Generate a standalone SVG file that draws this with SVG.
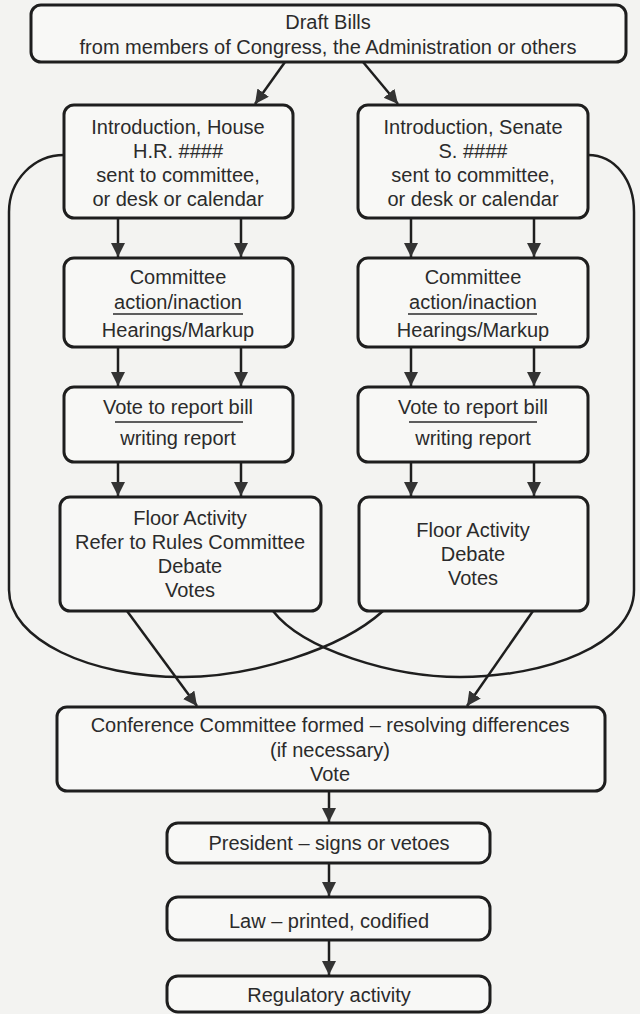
<svg xmlns="http://www.w3.org/2000/svg" width="640" height="1014" viewBox="0 0 640 1014">
<defs>
<marker id="ah" markerUnits="userSpaceOnUse" markerWidth="16" markerHeight="16" refX="14" refY="7" orient="auto"><path d="M0,0 L14,7 L0,14 Z" fill="#333"/></marker>
<style>
.box{fill:#f8f8f6;stroke:#1e1e1e;stroke-width:3}
.t{font-family:"Liberation Sans",Arial,sans-serif;font-size:20px;fill:#2b2b2b;text-anchor:middle}
.ul{stroke:#2b2b2b;stroke-width:1.5}
.c{fill:none;stroke:#1e1e1e;stroke-width:2.5}
.a{fill:none;stroke:#1e1e1e;stroke-width:2.5;marker-end:url(#ah)}
</style>
</defs>
<rect x="0" y="0" width="640" height="1014" fill="#f3f3f1"/>

<g id="connectors">
<path class="c" d="M64,155 C34,155 9,180 9,212 L9,590 C9,640 90,677 183,677 C250,677 340,650 383,611"/>
<path class="c" d="M588,155 C615,155 634,180 634,212 L634,590 C634,645 545,677 460,677 C393,677 303,650 273,611"/>
<line class="a" x1="285" y1="62" x2="255" y2="104"/>
<line class="a" x1="363" y1="62" x2="398" y2="104"/>
<line class="a" x1="118" y1="218" x2="118" y2="257"/>
<line class="a" x1="241" y1="218" x2="241" y2="257"/>
<line class="a" x1="411" y1="218" x2="411" y2="257"/>
<line class="a" x1="534" y1="218" x2="534" y2="257"/>
<line class="a" x1="118" y1="347" x2="118" y2="386"/>
<line class="a" x1="241" y1="347" x2="241" y2="386"/>
<line class="a" x1="411" y1="347" x2="411" y2="386"/>
<line class="a" x1="534" y1="347" x2="534" y2="386"/>
<line class="a" x1="118" y1="462" x2="118" y2="496"/>
<line class="a" x1="241" y1="462" x2="241" y2="496"/>
<line class="a" x1="411" y1="462" x2="411" y2="496"/>
<line class="a" x1="534" y1="462" x2="534" y2="496"/>
<line class="a" x1="127" y1="611" x2="197" y2="706"/>
<line class="a" x1="533" y1="611" x2="467" y2="706"/>
<line class="a" x1="329" y1="791" x2="329" y2="822"/>
<line class="a" x1="329" y1="863" x2="329" y2="896"/>
<line class="a" x1="329" y1="940" x2="329" y2="975"/>
</g>

<g id="draft">
<rect class="box" x="31" y="5" width="595" height="57" rx="10"/>
<text class="t" x="328" y="29">Draft Bills</text>
<text class="t" x="328" y="54">from members of Congress, the Administration or others</text>
</g>

<g id="intro-house">
<rect class="box" x="64" y="105" width="229" height="113" rx="10"/>
<text class="t" x="178" y="134">Introduction, House</text>
<text class="t" x="178" y="158">H.R. ####</text>
<text class="t" x="178" y="182">sent to committee,</text>
<text class="t" x="178" y="206">or desk or calendar</text>
</g>

<g id="intro-senate">
<rect class="box" x="358" y="105" width="230" height="113" rx="10"/>
<text class="t" x="473" y="134">Introduction, Senate</text>
<text class="t" x="473" y="158">S. ####</text>
<text class="t" x="473" y="182">sent to committee,</text>
<text class="t" x="473" y="206">or desk or calendar</text>
</g>

<g id="committee-house">
<rect class="box" x="64" y="258" width="229" height="89" rx="10"/>
<text class="t" x="178" y="284">Committee</text>
<text class="t" x="178" y="309">action/inaction</text>
<line class="ul" x1="113" y1="314" x2="243" y2="314"/>
<text class="t" x="178" y="337">Hearings/Markup</text>
</g>

<g id="committee-senate">
<rect class="box" x="358" y="258" width="230" height="89" rx="10"/>
<text class="t" x="473" y="284">Committee</text>
<text class="t" x="473" y="309">action/inaction</text>
<line class="ul" x1="408" y1="314" x2="537" y2="314"/>
<text class="t" x="473" y="337">Hearings/Markup</text>
</g>

<g id="vote-house">
<rect class="box" x="64" y="387" width="229" height="75" rx="10"/>
<text class="t" x="178" y="414">Vote to report bill</text>
<line class="ul" x1="115" y1="422" x2="243" y2="422"/>
<text class="t" x="178" y="445">writing report</text>
</g>

<g id="vote-senate">
<rect class="box" x="358" y="387" width="230" height="75" rx="10"/>
<text class="t" x="473" y="414">Vote to report bill</text>
<line class="ul" x1="409" y1="422" x2="537" y2="422"/>
<text class="t" x="473" y="445">writing report</text>
</g>

<g id="floor-house">
<rect class="box" x="60" y="497" width="261" height="114" rx="10"/>
<text class="t" x="190" y="525">Floor Activity</text>
<text class="t" x="190" y="549">Refer to Rules Committee</text>
<text class="t" x="190" y="573">Debate</text>
<text class="t" x="190" y="597">Votes</text>
</g>

<g id="floor-senate">
<rect class="box" x="359" y="497" width="229" height="114" rx="10"/>
<text class="t" x="473" y="537">Floor Activity</text>
<text class="t" x="473" y="561">Debate</text>
<text class="t" x="473" y="585">Votes</text>
</g>

<g id="conference">
<rect class="box" x="57" y="707" width="548" height="84" rx="10"/>
<text class="t" x="330" y="732">Conference Committee formed – resolving differences</text>
<text class="t" x="330" y="757">(if necessary)</text>
<text class="t" x="330" y="781">Vote</text>
</g>

<g id="president">
<rect class="box" x="167" y="823" width="323" height="40" rx="11"/>
<text class="t" x="329" y="850">President – signs or vetoes</text>
</g>

<g id="law">
<rect class="box" x="167" y="897" width="323" height="43" rx="11"/>
<text class="t" x="329" y="928">Law – printed, codified</text>
</g>

<g id="regulatory">
<rect class="box" x="167" y="976" width="323" height="36" rx="11"/>
<text class="t" x="329" y="1002">Regulatory activity</text>
</g>
</svg>
